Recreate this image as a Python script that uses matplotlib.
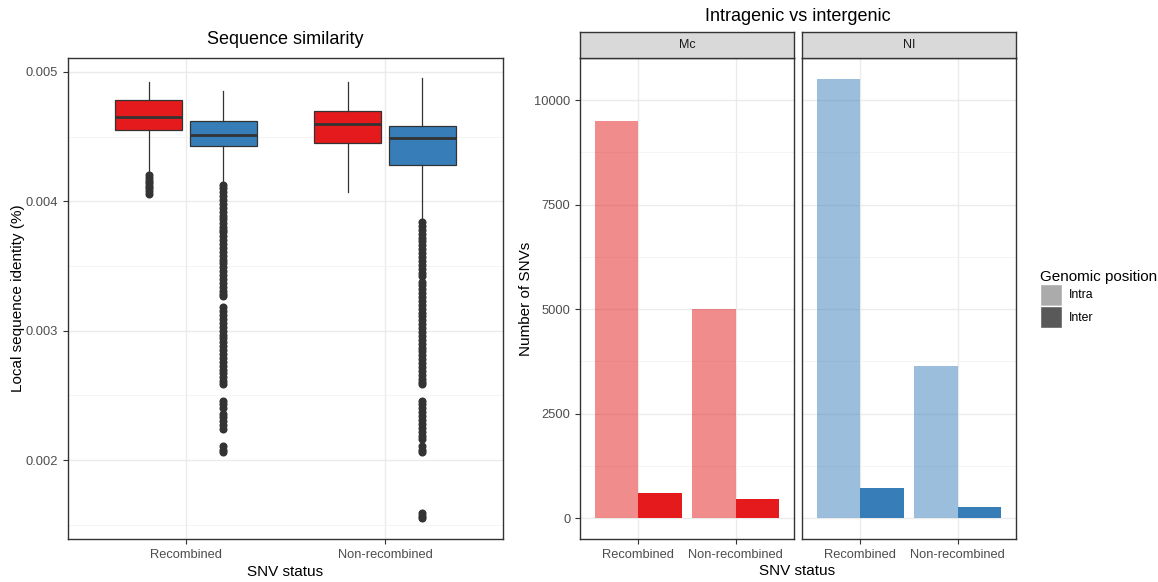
import numpy as np
import matplotlib
matplotlib.use("Agg")
from matplotlib import pyplot as plt
from matplotlib.patches import Patch

plt.rcParams['font.family'] = ['Liberation Sans', 'DejaVu Sans']

# categories and groups
status = ['Recombined', 'Non-recombined']
species = ['Mc', 'NI']
positions_lbl = ['Intra', 'Inter']

# box statistics (red, blue) per SNV status
red_stats = {
    'Recombined':     dict(whislo=0.00421, q1=0.004552, med=0.004652, q3=0.004783, whishi=0.004923),
    'Non-recombined': dict(whislo=0.00407, q1=0.004449, med=0.004600, q3=0.004697, whishi=0.004920),
}
blue_stats = {
    'Recombined':     dict(whislo=0.00414, q1=0.004425, med=0.004510, q3=0.004619, whishi=0.004850),
    'Non-recombined': dict(whislo=0.00385, q1=0.004280, med=0.004490, q3=0.004580, whishi=0.004950),
}

# outliers
red_rec_out = [0.00420, 0.00418, 0.00416, 0.00414, 0.00412, 0.00410, 0.00408, 0.00406]
red_non_out = []
blue_rec_out = [0.00413, 0.00410, 0.00407, 0.00404, 0.00401, 0.00398, 0.00395, 0.00392,
                0.00389, 0.00386, 0.00383, 0.00380, 0.00378,
                0.00376, 0.00373, 0.00370, 0.00367, 0.00364, 0.00361, 0.00358, 0.00355,
                0.00352, 0.00349, 0.00346, 0.00343, 0.00340, 0.00337, 0.00334, 0.00331,
                0.00328, 0.003265,
                0.00318, 0.00315, 0.00312, 0.00309, 0.00306, 0.00303, 0.00300, 0.00297,
                0.00294, 0.00291, 0.00288, 0.00285, 0.00282, 0.00279, 0.00276, 0.00273,
                0.00270, 0.00267, 0.00264, 0.00261, 0.002585,
                0.00246, 0.00243, 0.00240, 0.00236, 0.00233, 0.00230, 0.00227, 0.002244,
                0.002105, 0.00208, 0.002059]
blue_non_out = [0.00384, 0.00381, 0.00378, 0.00375, 0.00372, 0.00369, 0.00366, 0.00363,
                0.00360, 0.00357, 0.00354, 0.00351, 0.00348, 0.00345, 0.00342,
                0.00338, 0.00335, 0.00332, 0.00329, 0.00326, 0.00323, 0.00320, 0.00317,
                0.00314, 0.00311, 0.00308, 0.00305, 0.00302, 0.00299, 0.00296, 0.00293,
                0.00290, 0.00287, 0.00284, 0.00281, 0.00278, 0.00275, 0.00272, 0.00269,
                0.00266, 0.00263, 0.00260, 0.002585,
                0.00246, 0.00243, 0.00240, 0.00237, 0.00234, 0.00231, 0.00228, 0.00225,
                0.00222, 0.00219, 0.00216,
                0.002105, 0.00208, 0.00206,
                0.00159, 0.00157, 0.00155]

# bar counts (Number of SNVs) per species, per status
intra_counts = {'Mc': [9500, 5000], 'NI': [10500, 3640]}
inter_counts = {'Mc': [600, 460], 'NI': [720, 270]}

red = '#E41A1C'
blue = '#377EB8'
grid_col = '#EBEBEB'
edge = '#333333'
tick_col = '#4D4D4D'


def style_panel(ax):
    ax.set_facecolor('white')
    for s in ax.spines.values():
        s.set_color(edge)
        s.set_linewidth(1.0)
    ax.tick_params(axis='both', colors=edge, labelcolor=tick_col, length=3.5,
                   width=0.8, labelsize=9.3)
    ax.grid(True, which='major', color=grid_col, linewidth=1.0, zorder=0)
    ax.grid(True, which='minor', axis='y', color='#F2F2F2', linewidth=0.6, zorder=0)
    ax.set_axisbelow(True)


fig = plt.figure(figsize=(11.58, 5.82), dpi=100)

# ---- left panel: sequence similarity boxplots ----
ax = fig.add_axes([0.0587, 0.0739, 0.3756, 0.8264])
style_panel(ax)
xc = np.arange(1, len(status) + 1)
off = 0.1875
bw = 0.3375
for col, stats, outs, sign in [(red, red_stats, [red_rec_out, red_non_out], -1),
                               (blue, blue_stats, [blue_rec_out, blue_non_out], 1)]:
    st = []
    for i, s in enumerate(status):
        d = dict(stats[s])
        d['fliers'] = outs[i]
        st.append(d)
    ax.bxp(st, positions=xc + sign * off, widths=bw, patch_artist=True,
           showcaps=False,
           boxprops=dict(facecolor=col, edgecolor=edge, linewidth=0.9),
           medianprops=dict(color=edge, linewidth=2.0),
           whiskerprops=dict(color=edge, linewidth=0.9),
           flierprops=dict(marker='o', markersize=4.8, markerfacecolor=edge,
                           markeredgecolor=edge, linestyle='none'),
           zorder=3)
ax.set_xlim(0.407, 2.593)
ax.set_ylim(0.00139, 0.005108)
ax.set_xticks(xc)
ax.set_xticklabels(status)
ax.set_yticks([0.002, 0.003, 0.004, 0.005])
ax.set_yticklabels(['0.002', '0.003', '0.004', '0.005'])
ax.set_yticks([0.0015, 0.0025, 0.0035, 0.0045], minor=True)
ax.tick_params(axis='y', which='minor', length=0)
ax.set_xlabel('SNV status', fontsize=11, labelpad=3)
ax.set_ylabel('Local sequence identity (%)', fontsize=11, labelpad=0.5)
ax.set_title('Sequence similarity', fontsize=13, pad=10)

# ---- right panel: faceted bars ----
lefts = [0.5009, 0.6926]
pw = 0.1848
for k, sp in enumerate(species):
    col = red if sp == 'Mc' else blue
    a = fig.add_axes([lefts[k], 0.0739, pw, 0.8264])
    style_panel(a)
    a.bar(xc - 0.225, intra_counts[sp], width=0.45, color=col, alpha=0.5,
          linewidth=0, zorder=3)
    a.bar(xc + 0.225, inter_counts[sp], width=0.45, color=col, linewidth=0, zorder=3)
    a.set_xlim(0.4, 2.6)
    a.set_ylim(-502, 11005)
    a.set_xticks(xc)
    a.set_xticklabels(status)
    a.set_yticks([0, 2500, 5000, 7500, 10000])
    a.set_yticks([1250, 3750, 6250, 8750], minor=True)
    a.tick_params(axis='y', which='minor', length=0)
    if k == 0:
        a.set_ylabel('Number of SNVs', fontsize=11, labelpad=1)
    else:
        a.tick_params(axis='y', which='major', labelleft=False, length=0)
    # facet strip
    s = fig.add_axes([lefts[k], 0.9003, pw, 0.0447])
    s.set_facecolor('#D9D9D9')
    s.set_xticks([])
    s.set_yticks([])
    for sp_ in s.spines.values():
        sp_.set_color(edge)
        sp_.set_linewidth(1.0)
    s.text(0.5, 0.5, sp, ha='center', va='center', fontsize=9, color='#1A1A1A',
           transform=s.transAxes)

fig.text(0.6887, 0.972, 'Intragenic vs intergenic', ha='center', va='center', fontsize=13)
fig.text(0.6887, 0.019, 'SNV status', ha='center', va='center', fontsize=11)

handles = [Patch(facecolor='#ABABAB', edgecolor='white', linewidth=1, label=positions_lbl[0]),
           Patch(facecolor='#595959', edgecolor='white', linewidth=1, label=positions_lbl[1])]
leg = fig.legend(handles=handles, title='Genomic position', loc='upper left',
                 bbox_to_anchor=(0.894, 0.545), frameon=False, fontsize=8.8,
                 title_fontsize=11, handlelength=1.75, handleheight=2.4,
                 labelspacing=0.0, handletextpad=0.6, borderaxespad=0)
leg._legend_box.align = 'left'

fig.savefig('out.png', dpi=100)
